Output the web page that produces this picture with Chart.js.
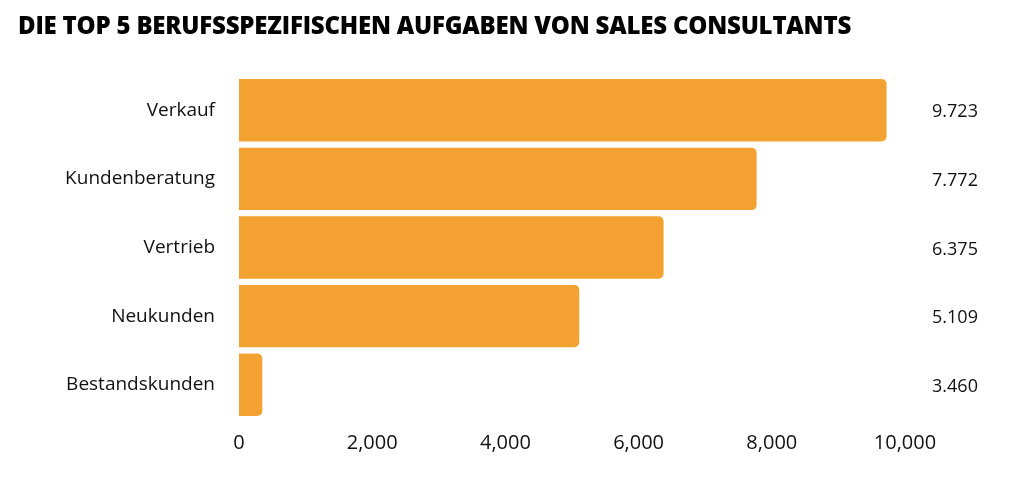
<!DOCTYPE html>
<html><head><meta charset="utf-8">
<script src="https://cdn.jsdelivr.net/npm/chart.js@4"></script>
<style>
html,body{margin:0;background:#fff;}
#wrap{position:relative;width:1014px;height:489px;}
h1{position:absolute;left:18px;top:8px;margin:0;font:800 24px "Open Sans",sans-serif;color:#000;letter-spacing:-0.2px;}
</style></head>
<body><div id="wrap"><h1>DIE TOP 5 BERUFSSPEZIFISCHEN AUFGABEN VON SALES CONSULTANTS</h1><canvas id="c" width="1014" height="489"></canvas></div>
<script>
// Kategorien und Werte (Balkenlängen)
const categories = ['Verkauf', 'Kundenberatung', 'Vertrieb', 'Neukunden', 'Bestandskunden'];
const barValues  = [9723, 7772, 6375, 5109, 350];
const valueLabels = ['9.723', '7.772', '6.375', '5.109', '3.460'];
const xTicks = [0, 2000, 4000, 6000, 8000, 10000];

// Wertbeschriftungen rechts in eigener Spalte
const rightLabels = {
  id: 'rightLabels',
  afterDatasetsDraw(chart) {
    const { ctx } = chart;
    const meta = chart.getDatasetMeta(0);
    ctx.save();
    ctx.font = '18px "Open Sans", sans-serif';
    ctx.fillStyle = '#111';
    ctx.textAlign = 'center';
    ctx.textBaseline = 'middle';
    meta.data.forEach((bar, i) => ctx.fillText(valueLabels[i], 955, bar.y + 2));
    ctx.restore();
  }
};

new Chart(document.getElementById('c').getContext('2d'), {
  type: 'bar',
  data: { labels: categories, datasets: [{ data: barValues, backgroundColor: '#F3A232',
    borderRadius: { topRight: 5, bottomRight: 5 }, borderSkipped: 'left',
    categoryPercentage: 1, barPercentage: 0.91 }] },
  options: {
    indexAxis: 'y', responsive: false, animation: false,
    layout: { padding: { top: 76, right: 109, bottom: 30, left: 0 } },
    plugins: { legend: { display: false }, tooltip: { enabled: false } },
    scales: {
      x: { min: 0, max: 10000, afterBuildTicks: s => { s.ticks = xTicks.map(v => ({ value: v })); },
        grid: { display: false }, border: { display: false },
        ticks: { color: '#111', font: { size: 20, family: '"Open Sans", sans-serif' }, padding: 4, maxRotation: 0 } },
      y: { grid: { display: false }, border: { display: false },
        afterFit: s => { s.width = 239; },
        ticks: { color: '#111', font: { size: 19, family: '"Open Sans", sans-serif' }, padding: 16 } }
    }
  },
  plugins: [rightLabels]
});
</script></body></html>
